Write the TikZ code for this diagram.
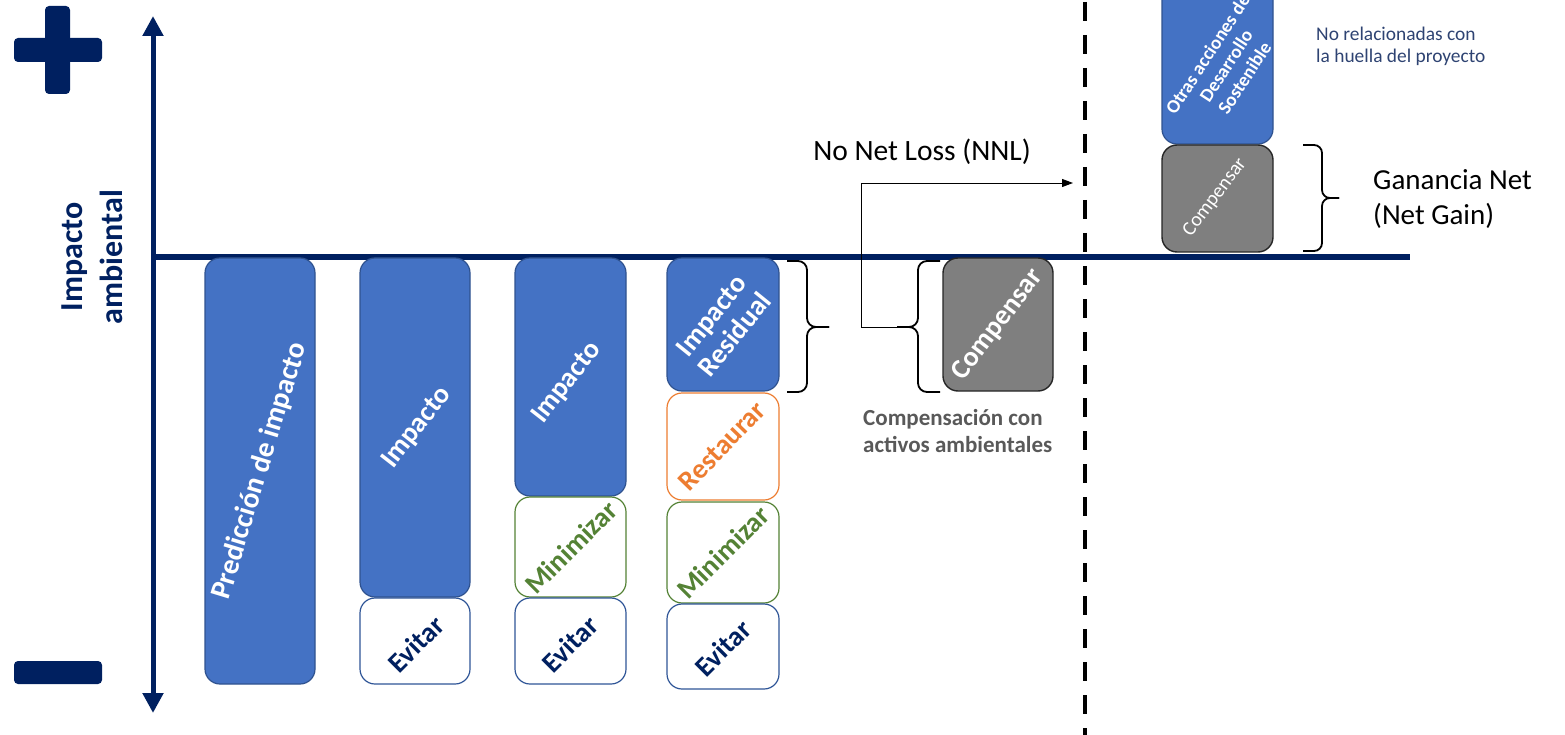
\documentclass[tikz,border=0pt]{standalone}
\usepackage{fontspec}
\setmainfont{Carlito}
\usetikzlibrary{arrows.meta}

\definecolor{navy}{HTML}{002060}
\definecolor{boxblue}{HTML}{4472C4}
\definecolor{boxedge}{HTML}{2F528F}
\definecolor{avoidedge}{HTML}{2F5597}
\definecolor{leafgreen}{HTML}{548235}
\definecolor{accentorange}{HTML}{ED7D31}
\definecolor{offsetgray}{HTML}{7F7F7F}
\definecolor{offsetedge}{HTML}{262626}
\definecolor{labelgray}{HTML}{595959}
\definecolor{noteblue}{HTML}{2E4372}

\tikzset{
  blk/.style={rectangle, rounded corners=15pt, inner sep=0pt, line width=1.2pt},
  impactbox/.style={blk, draw=boxedge, fill=boxblue},
  avoidbox/.style={blk, draw=avoidedge, fill=white},
  minbox/.style={blk, draw=leafgreen, fill=white},
  restbox/.style={blk, draw=accentorange, fill=white},
  offsetbox/.style={blk, draw=offsetedge, fill=offsetgray, line width=1.4pt},
  boxtext/.style={inner sep=0pt, align=center, font=\bfseries\fontsize{28}{30}\selectfont},
  whitetext/.style={boxtext, text=white},
  bracket/.style={draw=black, line width=1.8pt, rounded corners=9pt},
  axisline/.style={draw=navy, line width=5pt},
  link/.style={draw=black, line width=0.9pt},
}

\begin{document}
\begin{tikzpicture}[x=1pt, y=-1pt]
  \useasboundingbox (0,0) rectangle (1565,735);
  \clip (0,0) rectangle (1565,735);

  % plus and minus signs
  \fill[navy, rounded corners=4pt] (14,38) rectangle (102,62);
  \fill[navy, rounded corners=4pt] (45,6) rectangle (70,94);
  \fill[navy, rounded corners=4pt] (14,661) rectangle (102,684);

  % axes
  \coordinate (ytop) at (153,16);
  \coordinate (ybot) at (153,713);
  \coordinate (xorig) at (153,257);
  \coordinate (xend) at (1410,257);
  \draw[axisline, {Triangle[length=20pt,width=20pt]}-{Triangle[length=20pt,width=20pt]}] (ytop) -- (ybot);
  \draw[axisline, line width=5.5pt] (xorig) -- (xend);

  \node[rotate=90, align=center, text=navy, inner sep=0pt,
        font=\bfseries\fontsize{32}{40}\selectfont] (axlabel) at (92,257) {Impacto\\ambiental};

  % separator
  \draw[black, line width=4pt, dash pattern=on 19pt off 14pt] (1085,2) -- (1085,735);

  % column 1
  \node[impactbox, minimum width=110pt, minimum height=426pt] (pred) at (260,471) {};
  \node[whitetext, rotate=73, font=\bfseries\fontsize{29}{31}\selectfont] at (pred) {Predicción de impacto};

  % column 2
  \node[impactbox, minimum width=110pt, minimum height=339pt] (imp2) at (415,427.5) {};
  \node[avoidbox, minimum width=110pt, minimum height=86pt] (evi2) at (415,641) {};
  \node[whitetext, rotate=52] at (417,428) {Impacto};
  \node[boxtext, text=navy, rotate=45] at (416,644) {Evitar};

  % column 3
  \node[impactbox, minimum width=111pt, minimum height=238pt] (imp3) at (570.5,377) {};
  \node[minbox, minimum width=111pt, minimum height=100pt] (min3) at (570.5,547) {};
  \node[avoidbox, minimum width=111pt, minimum height=86pt] (evi3) at (570.5,641) {};
  \node[whitetext, rotate=52] at (567,383) {Impacto};
  \node[boxtext, text=leafgreen, rotate=45] at (571,547) {Minimizar};
  \node[boxtext, text=navy, rotate=45] at (570,644) {Evitar};

  % column 4
  \node[impactbox, minimum width=112pt, minimum height=133pt] (res4) at (723,324.5) {};
  \node[restbox, minimum width=112pt, minimum height=107pt] (rest4) at (723,446.5) {};
  \node[minbox, minimum width=112pt, minimum height=101pt] (min4) at (723,552.5) {};
  \node[avoidbox, minimum width=112pt, minimum height=85pt] (evi4) at (723,646.5) {};
  \node[whitetext, rotate=51] at (723,325) {Impacto\\Residual};
  \node[boxtext, text=accentorange, rotate=46] at (722,446) {Restaurar};
  \node[boxtext, text=leafgreen, rotate=45] at (723,552) {Minimizar};
  \node[boxtext, text=navy, rotate=45] at (723,648) {Evitar};

  % offset block
  \node[offsetbox, minimum width=110pt, minimum height=133pt] (comp) at (998,324.5) {};
  \node[whitetext, rotate=53] at (998,325) {Compensar};

  % braces around the residual impact and the offset
  \draw[bracket] (787,261) -- (807,261) -- (807,327) -- (829,327);
  \draw[bracket] (787,392) -- (807,392) -- (807,327) -- (829,327);
  \draw[bracket] (940,261) -- (918,261) -- (918,327) -- (897,327);
  \draw[bracket] (940,392) -- (918,392) -- (918,327) -- (897,327);

  \node[anchor=west, align=left, inner sep=0pt, text=labelgray,
        font=\bfseries\fontsize{23}{27}\selectfont] (complabel) at (863,431) {Compensación con\\activos ambientales};

  % no net loss link
  \coordinate (nnlstart) at (898,327);
  \coordinate (nnlbend) at (861,183);
  \coordinate (nnlend) at (1073,183);
  \draw[link, -{Triangle[length=11pt,width=8pt]}] (nnlstart) -- (nnlbend |- nnlstart) -- (nnlbend) -- (nnlend);
  \node[inner sep=0pt, font=\fontsize{29.5}{32}\selectfont] (nnl) at (922,152) {No Net Loss (NNL)};

  % net gain side
  \node[impactbox, minimum width=111pt, minimum height=190pt] (otras) at (1217.5,49) {};
  \node[offsetbox, minimum width=111pt, minimum height=107pt] (comp2) at (1217.5,198.5) {};
  \node[whitetext, rotate=57, font=\bfseries\fontsize{19}{22}\selectfont] at (1226,66) {Otras acciones de\\Desarrollo\\Sostenible};
  \node[text=white, inner sep=0pt, rotate=53, font=\fontsize{20}{22}\selectfont] at (1215,197.5) {Compensar};

  \draw[bracket, rounded corners=8pt] (1303,145) -- (1322,145) -- (1322,198) -- (1339,198);
  \draw[bracket, rounded corners=8pt] (1303,251) -- (1322,251) -- (1322,198) -- (1339,198);

  \node[anchor=west, align=left, inner sep=0pt, font=\fontsize{29}{35}\selectfont] (gain) at (1373,199) {Ganancia Net\\(Net Gain)};
  \node[anchor=west, align=left, inner sep=0pt, text=noteblue, font=\fontsize{19.4}{22}\selectfont] (note) at (1316,46) {No relacionadas con\\la huella del proyecto};
\end{tikzpicture}
\end{document}
